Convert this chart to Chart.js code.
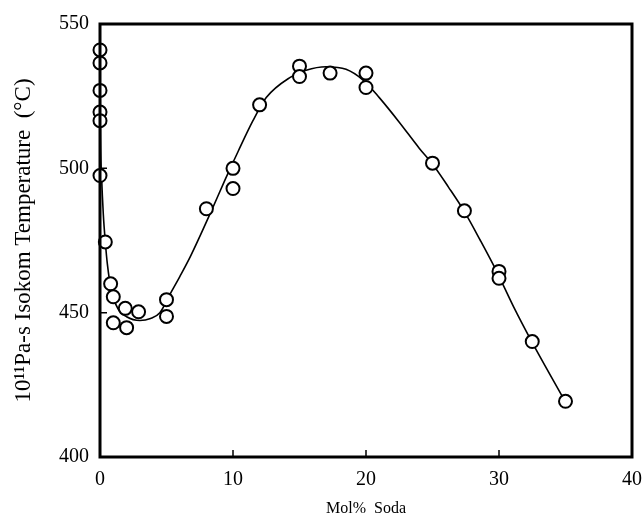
<!DOCTYPE html>
<html>
<head>
<meta charset="utf-8">
<script src="https://cdn.jsdelivr.net/npm/chart.js@4/dist/chart.umd.min.js"></script>
<style>
  html, body { margin: 0; padding: 0; background: #fff; }
  #wrap { width: 644px; height: 522px; }
</style>
</head>
<body>
<div id="wrap"><canvas id="chart"></canvas></div>
<script>
// measured points (mol% soda, isokom temperature °C)
const sodaPts = [0, 0, 0, 0, 0, 0, 0.4, 0.8, 1, 1, 1.9, 2, 2.9, 5, 5, 8, 10, 10, 12, 15, 15, 17.3, 20, 20, 25, 27.4, 30, 30, 32.5, 35];
const tempPts = [541, 536.5, 527, 519.5, 516.5, 497.5, 474.5, 460, 455.5, 446.5, 451.5, 444.8, 450.3, 454.5, 448.7, 486, 500, 493, 522, 535.4, 531.8, 533, 533, 528, 501.8, 485.3, 464.3, 461.9, 440, 419.3];

// hand-drawn fit curve
const curveX = [0, 0.01, 0.04, 0.12, 0.25, 0.4, 0.55, 0.88, 1.4, 2.0, 3.0, 3.8, 4.5, 5.3, 6.0, 6.8, 8.3, 9.4, 10.4, 11.5, 12.5, 14.3, 15.5, 17.0, 18.5, 19.8, 21.0, 22.5, 24.0, 25.0, 26.2, 27.4, 28.6, 29.8, 31.1, 32.4, 35.0];
const curveY = [550, 530, 510, 497, 484, 474.5, 467, 457, 451, 448.6, 447.3, 448, 450, 456.7, 462.5, 469.5, 484.5, 496, 506, 516.5, 524.5, 531.5, 534, 535.2, 534.3, 530.5, 524.5, 516, 507, 501.5, 493.5, 485, 475, 464.5, 452, 440.5, 419];

const xTicks = [0, 10, 20, 30, 40];
const yTicks = [400, 450, 500, 550];

const xTitle = "Mol%  Soda";
const yTitle = "10\u00B9\u00B9Pa-s Isokom Temperature  (\u00B0C)";

const serif = "'Liberation Serif', 'DejaVu Serif', serif";

// frame + inward tick marks
const framePlugin = {
  id: "frame",
  afterDraw(chart) {
    const { ctx, chartArea: a, scales } = chart;
    ctx.save();
    ctx.strokeStyle = "#000";
    ctx.lineWidth = 3;
    ctx.strokeRect(a.left, a.top, a.right - a.left, a.bottom - a.top);
    ctx.lineWidth = 1.5;
    ctx.beginPath();
    xTicks.slice(1, -1).forEach(v => {
      const px = scales.x.getPixelForValue(v);
      ctx.moveTo(px, a.bottom);
      ctx.lineTo(px, a.bottom - 7);
    });
    yTicks.slice(1, -1).forEach(v => {
      const py = scales.y.getPixelForValue(v);
      ctx.moveTo(a.left, py);
      ctx.lineTo(a.left + 7, py);
    });
    ctx.stroke();
    ctx.restore();
  }
};

new Chart(document.getElementById("chart").getContext("2d"), {
  type: "scatter",
  data: {
    datasets: [
      {
        label: "data",
        data: sodaPts.map((x, i) => ({ x, y: tempPts[i] })),
        pointStyle: "circle",
        pointRadius: 6.5,
        pointBackgroundColor: "#fff",
        pointBorderColor: "#000",
        pointBorderWidth: 2,
        showLine: false,
        clip: false,
        order: 0,
      },
      {
        label: "fit",
        data: curveX.map((x, i) => ({ x, y: curveY[i] })),
        showLine: true,
        borderColor: "#000",
        borderWidth: 1.6,
        pointRadius: 0,
        cubicInterpolationMode: "monotone",
        fill: false,
        order: 1,
      },
    ],
  },
  options: {
    responsive: true,
    maintainAspectRatio: false,
    animation: false,
    layout: { padding: { left: 0, right: 12, top: 24, bottom: 0 } },
    plugins: {
      legend: { display: false },
      tooltip: { enabled: false },
    },
    scales: {
      x: {
        type: "linear",
        min: 0,
        max: 40,
        afterFit: s => { s.height = 65; s.paddingLeft = 0; s.paddingRight = 0; },
        afterBuildTicks: s => { s.ticks = xTicks.map(v => ({ value: v })); },
        grid: { display: false, drawTicks: false },
        border: { display: false },
        ticks: {
          color: "#000",
          padding: 11,
          font: { family: serif, size: 20 },
        },
        title: {
          display: true,
          text: xTitle,
          color: "#000",
          font: { family: serif, size: 16 },
          padding: { top: 0, bottom: 4 },
        },
      },
      y: {
        type: "linear",
        min: 400,
        max: 550,
        afterFit: s => { s.width = 100; s.paddingTop = 0; s.paddingBottom = 0; },
        afterBuildTicks: s => { s.ticks = yTicks.map(v => ({ value: v })); },
        grid: { display: false, drawTicks: false },
        border: { display: false },
        ticks: {
          color: "#000",
          padding: 11,
          font: { family: serif, size: 20 },
        },
        title: {
          display: true,
          text: yTitle,
          color: "#000",
          font: { family: serif, size: 23 },
          padding: { top: 10, bottom: 0 },
        },
      },
    },
  },
  plugins: [framePlugin],
});
</script>
</body>
</html>
